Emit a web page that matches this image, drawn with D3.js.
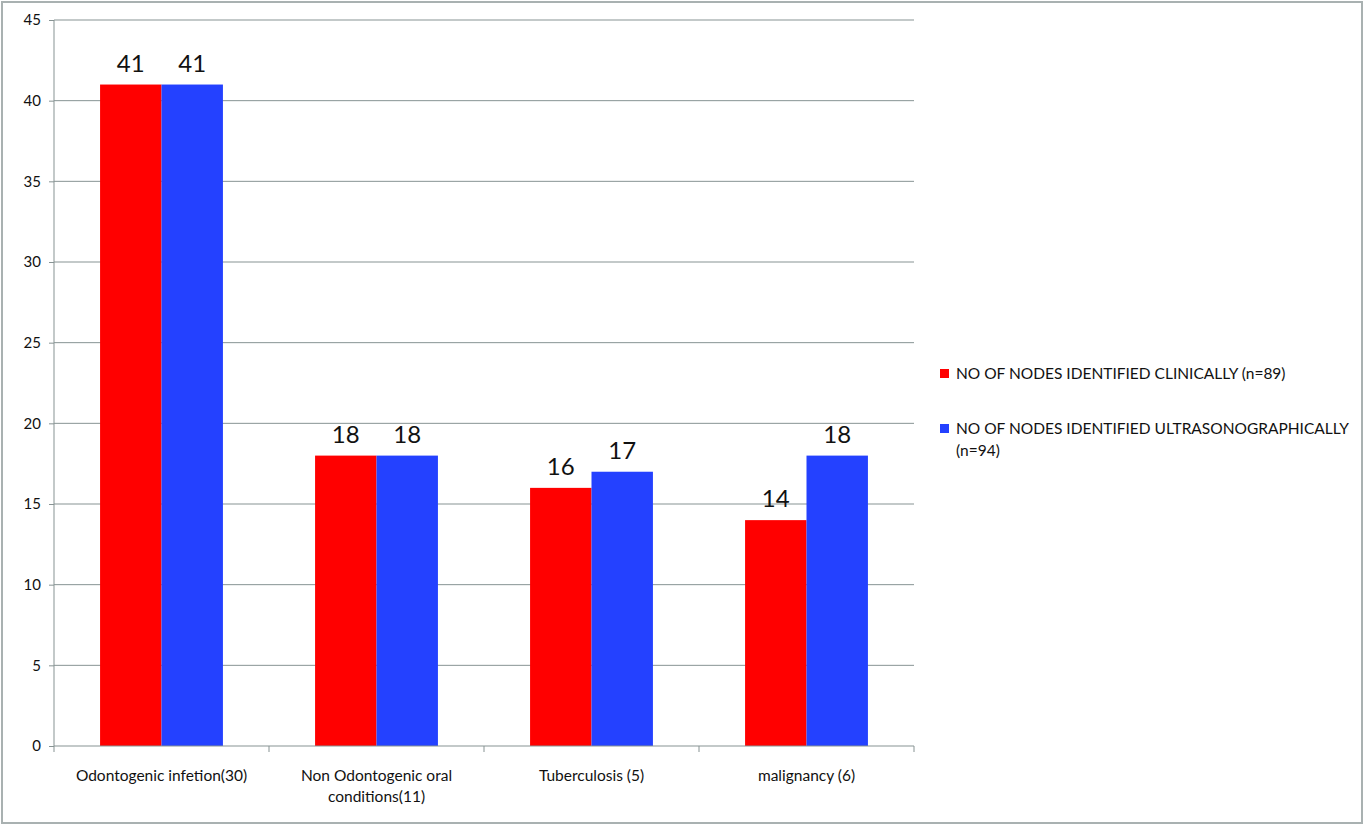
<!DOCTYPE html>
<html>
<head>
<meta charset="utf-8">
<script src="https://cdn.jsdelivr.net/npm/d3@7"></script>
<style>
body { margin: 0; background: #fff; }
svg text { font-family: Lato, "Open Sans", sans-serif; fill: #111; }
.axis path, .axis line { stroke: #879393; }
</style>
</head>
<body>
<div id="chart"></div>
<script>
let categories = [["Odontogenic infetion(30)"], ["Non Odontogenic oral", "conditions(11)"], ["Tuberculosis (5)"], ["malignancy (6)"]];
let seriesNames = [["NO OF NODES IDENTIFIED CLINICALLY  (n=89)"], ["NO OF NODES IDENTIFIED ULTRASONOGRAPHICALLY", "(n=94)"]];
let clinical = [41, 18, 16, 14];
let ultrasound = [41, 18, 17, 18];
let yTicks = [0, 5, 10, 15, 20, 25, 30, 35, 40, 45];
let colors = ["#ff0000", "#2441ff"];

let width = 1364;
let height = 826;
let plotLeft = 54, plotRight = 914, plotTop = 20, plotBottom = 746;

let svg = d3.select("#chart").append("svg")
	.attr("width", width)
	.attr("height", height);

svg.append("rect")
	.attr("x", 2).attr("y", 2)
	.attr("width", 1360).attr("height", 821)
	.attr("fill", "white")
	.attr("stroke", "#a9b1b1")
	.attr("stroke-width", 2);

let catKeys = categories.map((d, i) => i);
let x0 = d3.scaleBand().domain(catKeys).range([plotLeft, plotRight]).padding(0);
let x1 = d3.scaleBand().domain([0, 1]).range([0, x0.bandwidth()]).paddingInner(0).paddingOuter(0.75);
let y = d3.scaleLinear().domain([0, 45]).range([plotBottom, plotTop]);

// grid
svg.append("g").selectAll("line")
	.data(yTicks.filter(d => d > 0))
	.enter().append("line")
	.attr("x1", plotLeft).attr("x2", plotRight)
	.attr("y1", d => y(d)).attr("y2", d => y(d))
	.attr("stroke", "#879393").attr("stroke-width", 1);

let yAxis = d3.axisLeft(y).tickValues(yTicks).tickSize(5).tickPadding(8);
let yg = svg.append("g")
	.attr("class", "axis")
	.attr("transform", `translate(${plotLeft},0)`)
	.call(yAxis);
yg.select(".domain").attr("d", `M0,${plotTop}V${plotBottom}`);
yg.selectAll("text").attr("font-size", 15).attr("fill", "#111");

// bars
let data = catKeys.map(i => [clinical[i], ultrasound[i]]);
let groups = svg.append("g").selectAll("g")
	.data(data)
	.enter().append("g")
	.attr("transform", (d, i) => `translate(${x0(i)},0)`);

groups.selectAll("rect")
	.data(d => d)
	.enter().append("rect")
	.attr("x", (d, j) => x1(j))
	.attr("y", d => y(d))
	.attr("width", x1.bandwidth())
	.attr("height", d => y(0) - y(d))
	.attr("fill", (d, j) => colors[j]);

groups.selectAll("text")
	.data(d => d)
	.enter().append("text")
	.attr("x", (d, j) => x1(j) + x1.bandwidth() / 2)
	.attr("y", d => y(d) - 13)
	.attr("text-anchor", "middle")
	.attr("font-size", 24)
	.text(d => d);

// x axis
let xg = svg.append("g").attr("class", "axis");
xg.append("line")
	.attr("x1", plotLeft).attr("x2", plotRight)
	.attr("y1", plotBottom).attr("y2", plotBottom);
xg.selectAll("line.tick")
	.data(catKeys.map(i => x0(i)).concat([x0(catKeys.length - 1) + x0.bandwidth()]))
	.enter().append("line")
	.attr("class", "tick")
	.attr("x1", d => d).attr("x2", d => d)
	.attr("y1", plotBottom).attr("y2", plotBottom + 6);

let labels = xg.selectAll("text")
	.data(categories)
	.enter().append("text")
	.attr("x", (d, i) => x0(i) + x0.bandwidth() / 2)
	.attr("y", plotBottom + 35)
	.attr("text-anchor", "middle")
	.attr("font-size", 15.5);
labels.selectAll("tspan")
	.data(d => d)
	.enter().append("tspan")
	.attr("x", function () { return d3.select(this.parentNode).attr("x"); })
	.attr("dy", (d, k) => k === 0 ? 0 : 21)
	.text(d => d);

// legend
let legend = svg.append("g").selectAll("g")
	.data(seriesNames)
	.enter().append("g")
	.attr("transform", (d, i) => `translate(940,${369 + i * 55})`);
legend.append("rect")
	.attr("width", 9).attr("height", 9)
	.attr("fill", (d, i) => colors[i]);
let ltext = legend.append("text")
	.attr("x", 16).attr("y", 10)
	.attr("font-size", 15.5);
ltext.selectAll("tspan")
	.data(d => d)
	.enter().append("tspan")
	.attr("x", 16)
	.attr("dy", (d, k) => k === 0 ? 0 : 22)
	.text(d => d);
</script>
</body>
</html>
